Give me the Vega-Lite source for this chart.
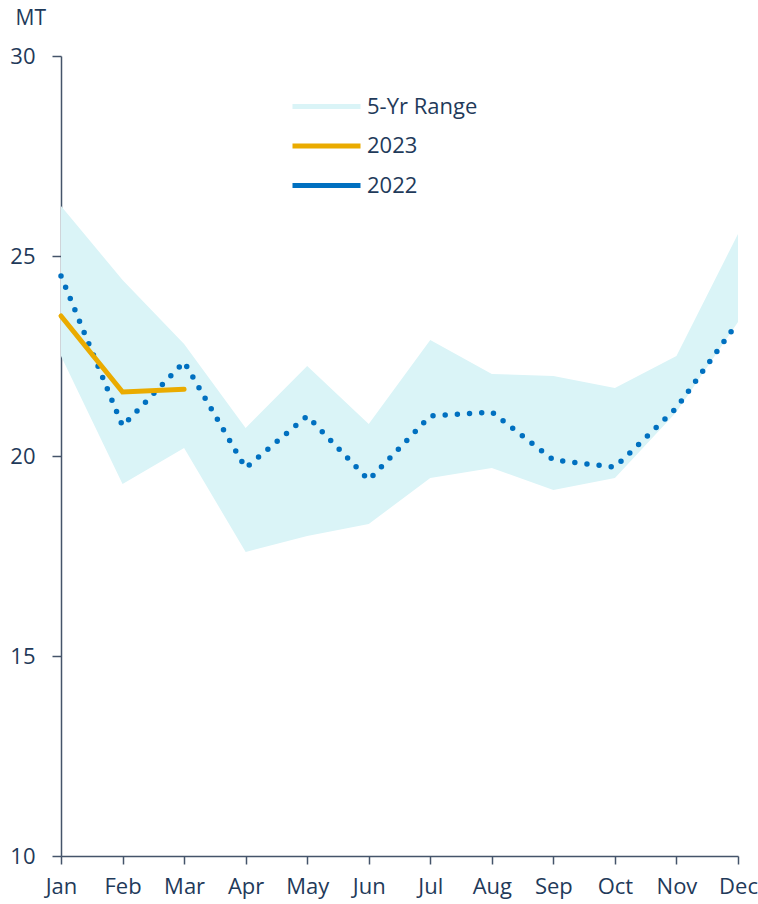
{
  "$schema": "https://vega.github.io/schema/vega-lite/v6.json",
  "width": 677,
  "height": 800,
  "autosize": "none",
  "padding": {"left": 61, "top": 56, "right": 20, "bottom": 48},
  "background": "white",
  "config": {
    "view": {"stroke": null},
    "font": "Open Sans",
    "axis": {"labelFont": "Open Sans", "titleFont": "Open Sans", "labelColor": "#1F3A5A", "titleColor": "#1F3A5A", "domainColor": "#44546A", "tickColor": "#44546A", "domainWidth": 1.5, "tickWidth": 1.5, "grid": false}
  },
  "datasets": {
    "range": [
      {"month": "Jan", "lo": 22.5, "hi": 26.25, "series": "5-Yr Range"},
      {"month": "Feb", "lo": 19.3, "hi": 24.4, "series": "5-Yr Range"},
      {"month": "Mar", "lo": 20.2, "hi": 22.8, "series": "5-Yr Range"},
      {"month": "Apr", "lo": 17.6, "hi": 20.7, "series": "5-Yr Range"},
      {"month": "May", "lo": 18.0, "hi": 22.25, "series": "5-Yr Range"},
      {"month": "Jun", "lo": 18.3, "hi": 20.8, "series": "5-Yr Range"},
      {"month": "Jul", "lo": 19.45, "hi": 22.9, "series": "5-Yr Range"},
      {"month": "Aug", "lo": 19.7, "hi": 22.05, "series": "5-Yr Range"},
      {"month": "Sep", "lo": 19.15, "hi": 22.0, "series": "5-Yr Range"},
      {"month": "Oct", "lo": 19.45, "hi": 21.7, "series": "5-Yr Range"},
      {"month": "Nov", "lo": 21.1, "hi": 22.5, "series": "5-Yr Range"},
      {"month": "Dec", "lo": 23.35, "hi": 25.55, "series": "5-Yr Range"}
    ],
    "y2022": [
      {"month": "Jan", "value": 24.5, "series": "2022"},
      {"month": "Feb", "value": 20.75, "series": "2022"},
      {"month": "Mar", "value": 22.35, "series": "2022"},
      {"month": "Apr", "value": 19.7, "series": "2022"},
      {"month": "May", "value": 21.0, "series": "2022"},
      {"month": "Jun", "value": 19.4, "series": "2022"},
      {"month": "Jul", "value": 21.0, "series": "2022"},
      {"month": "Aug", "value": 21.1, "series": "2022"},
      {"month": "Sep", "value": 19.9, "series": "2022"},
      {"month": "Oct", "value": 19.72, "series": "2022"},
      {"month": "Nov", "value": 21.2, "series": "2022"},
      {"month": "Dec", "value": 23.35, "series": "2022"}
    ],
    "y2023": [
      {"month": "Jan", "value": 23.5, "series": "2023"},
      {"month": "Feb", "value": 21.6, "series": "2023"},
      {"month": "Mar", "value": 21.67, "series": "2023"}
    ]
  },
  "encoding": {
    "x": {
      "field": "month", "type": "ordinal",
      "scale": {"type": "point", "padding": 0, "domain": ["Jan","Feb","Mar","Apr","May","Jun","Jul","Aug","Sep","Oct","Nov","Dec"]},
      "axis": {"title": null, "labelAngle": 0, "labelFontSize": 22, "tickSize": 8, "labelPadding": 12}
    }
  },
  "layer": [
    {
      "data": {"name": "range"},
      "mark": {"type": "area", "opacity": 1},
      "encoding": {
        "y": {
          "field": "lo", "type": "quantitative",
          "scale": {"domain": [10, 30], "nice": false, "zero": false},
          "axis": {"values": [10, 15, 20, 25, 30], "labelFontSize": 22, "tickSize": 9, "labelPadding": 17, "title": "MT", "titleAngle": 0, "titleFontSize": 21, "titleFontWeight": "normal", "titleAlign": "left", "titleBaseline": "middle", "titleX": -46, "titleY": -38}
        },
        "y2": {"field": "hi"},
        "color": {
          "field": "series", "type": "nominal",
          "scale": {"domain": ["5-Yr Range", "2023", "2022"], "range": ["#DAF4F7", "#EAAB00", "#0070C0"]},
          "legend": {
            "title": null,
            "orient": "none",
            "legendX": 263,
            "legendY": 31,
            "padding": 0,
            "symbolType": "M-3,0H1",
            "symbolSize": 1156,
            "symbolStrokeWidth": 5,
            "labelFontSize": 22,
            "labelFont": "Open Sans",
            "labelColor": "#1F3A5A",
            "labelOffset": 4,
            "rowPadding": 8.5,
            "encode": {
              "symbols": {
                "shape": {"condition": {"test": "datum.value == '2022'", "value": "M-3.044,0a0.162,0.162 0 1,0 0.324,0a0.162,0.162 0 1,0 -0.324,0M-2.327,0a0.162,0.162 0 1,0 0.324,0a0.162,0.162 0 1,0 -0.324,0M-1.609,0a0.162,0.162 0 1,0 0.324,0a0.162,0.162 0 1,0 -0.324,0M-0.891,0a0.162,0.162 0 1,0 0.324,0a0.162,0.162 0 1,0 -0.324,0M-0.174,0a0.162,0.162 0 1,0 0.324,0a0.162,0.162 0 1,0 -0.324,0M0.544,0a0.162,0.162 0 1,0 0.324,0a0.162,0.162 0 1,0 -0.324,0"}, "value": "M-3,0H1"},
                "fill": {"condition": {"test": "datum.value == '2022'", "value": "#0070C0"}, "value": "transparent"},
                "stroke": {"condition": [{"test": "datum.value == '5-Yr Range'", "value": "#DAF4F7"}, {"test": "datum.value == '2023'", "value": "#EAAB00"}], "value": "#0070C0"},
                "strokeWidth": {"condition": [{"test": "datum.value == '5-Yr Range'", "value": 15}, {"test": "datum.value == '2022'", "value": 0}], "value": 5},
                "strokeCap": {"condition": {"test": "datum.value == '5-Yr Range'", "value": "butt"}, "value": "round"},
                "opacity": {"value": 1}
              }
            }
          }
        }
      }
    },
    {
      "data": {"name": "y2022"},
      "mark": {"type": "line", "interpolate": "linear", "strokeWidth": 5.5, "strokeCap": "round", "strokeDash": [0, 12.2]},
      "encoding": {
        "y": {"field": "value", "type": "quantitative"},
        "color": {"field": "series", "type": "nominal"}
      }
    },
    {
      "data": {"name": "y2023"},
      "mark": {"type": "line", "strokeWidth": 5, "strokeCap": "round"},
      "encoding": {
        "y": {"field": "value", "type": "quantitative"},
        "color": {"field": "series", "type": "nominal"}
      }
    }
  ]
}
